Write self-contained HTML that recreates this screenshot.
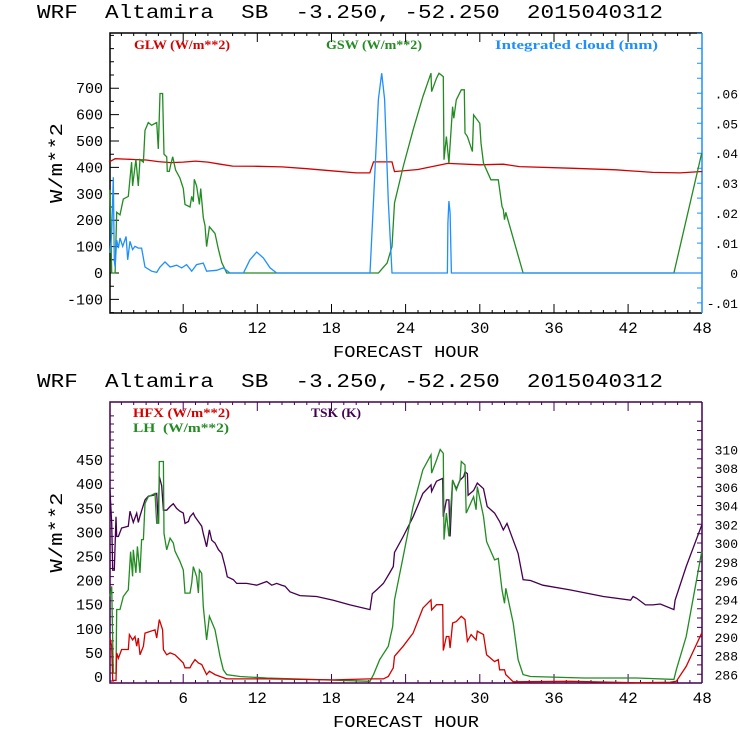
<!DOCTYPE html>
<html><head><meta charset="utf-8"><style>
html,body{margin:0;padding:0;background:#fff;width:740px;height:740px;overflow:hidden}
svg text{font-family:"Liberation Mono",monospace;white-space:pre}
.ser{font-family:"Liberation Serif",serif;font-weight:bold;font-size:13px}
</style></head><body>
<svg id="chart" width="740" height="740" viewBox="0 0 740 740" xmlns="http://www.w3.org/2000/svg" xml:space="preserve"></svg>
<script>
// ---------- data (hours, values) ----------
const glwHours=[0,0.5,2,3,4,5,6,7,8,9,10,12,14,16,18,20,21.1,21.4,22.9,23.1,25,27.4,30,31.9,33.2,37.3,41,44,46.2,47.8,48];
const glwVals=[420,433,430,428,422,418,420,424,420,412,405,404,402,395,387,379,379,421,421,384,392,415,410,412,403,397,391,381,379,384,384];
const gswHours=[0.08,0.22,0.49,0.62,0.89,1.16,1.56,1.83,1.91,2.18,2.37,2.51,2.78,2.91,3.18,3.45,3.86,3.99,4.13,4.34,4.45,4.67,4.72,4.88,4.99,5.15,5.39,5.74,6.01,6.15,6.55,6.69,6.82,6.9,7.09,7.31,7.42,7.63,7.77,7.9,8.12,8.58,8.85,9.12,9.52,21.8,22.5,22.9,23.1,23.8,24.6,25.4,26.05,26.1,26.5,26.7,27.05,27.1,27.3,27.5,27.8,27.9,28.1,28.5,28.75,28.8,29.0,29.4,29.5,30.0,30.1,30.3,30.9,31.5,31.8,31.9,32.0,32.1,33.5,45.7,47.95];
const gswVals=[315,0,0,230,220,280,290,420,330,430,330,430,420,540,570,560,570,470,680,680,450,440,385,385,410,440,390,360,320,260,250,290,270,355,330,260,320,210,180,100,175,150,90,40,0,0,38,100,265,403,542,668,757,687,738,757,744,429,517,416,630,586,656,694,694,530,517,460,599,567,492,416,353,353,252,240,202,230,0,0,454];
const cloudHours=[0.08,0.22,0.35,0.43,0.49,0.62,0.76,0.89,1.11,1.38,1.51,1.7,1.91,2.1,2.37,2.64,2.91,3.45,3.86,4.13,4.53,4.94,5.47,5.88,6.28,6.69,7.09,7.63,7.9,8.71,9.25,9.79,10.87,11.14,11.4,11.95,12.49,13.03,13.57,21.12,21.4,21.8,22.06,22.3,22.6,22.9,27.38,27.42,27.5,27.6,27.7,48];
const cloudVals=[0.0067,0.0133,0.032,0.004,0.002,0.011,0.0083,0.0117,0.0089,0.0122,0.0044,0.0106,0.0078,0.0089,0.0083,0.0083,0.002,0.0006,0.0002,0.002,0.0037,0.002,0.0026,0.0017,0.0028,0.0006,0.0028,0.0033,0.0006,0.0009,0.0017,0,0,0.0022,0.0044,0.007,0.005,0.0017,0,0,0.024,0.058,0.0667,0.058,0.024,0,0,0.0167,0.024,0.02,0,0];
const tskHours=[0.08,0.22,0.3,0.43,0.57,0.62,0.76,1.02,1.56,1.7,1.97,2.24,2.37,2.51,2.91,3.18,3.59,3.86,3.99,4.07,4.26,4.4,4.67,4.94,5.2,5.47,5.74,6.01,6.15,6.42,6.55,6.82,6.96,7.23,7.5,7.63,7.9,8.12,8.31,8.58,8.85,9.12,9.39,9.57,10.06,10.33,11.14,11.95,12.76,13.16,13.57,13.97,14.24,14.64,15.45,16.8,18.15,19.5,21.12,21.3,21.65,22.2,22.7,23.0,23.1,23.8,24.6,25.4,26.05,26.1,26.5,27.0,27.05,27.3,27.5,27.6,27.8,28.1,28.4,28.7,28.8,29.0,29.05,29.5,29.8,30.3,30.6,31.2,31.6,31.9,32.2,32.7,33.1,33.5,34.1,35.1,37.3,40.0,42.2,42.4,42.7,43.4,44.0,44.6,45.7,45.8,46.7,47.95];
const tskVals=[305.6,302.1,297.1,297.1,302.8,300.7,300.7,301.6,301.8,303.4,302.2,303.2,302.2,302.9,304.6,305.0,305.1,305.3,302.1,307.1,306.1,303.5,303.5,303.9,304.2,303.7,303.4,303.2,302.1,302.3,302.8,303.2,302.8,302.3,301.8,301.0,299.6,301.4,300.3,300.0,299.3,298.9,297.5,296.4,296.1,295.7,295.7,295.5,295.9,295.5,295.7,295.5,295.4,294.8,294.4,294.3,293.9,293.4,292.9,294.6,295.0,295.7,296.8,297.5,299.0,300.7,302.8,305.3,306.2,305.5,306.6,306.9,302.8,304.6,304.6,300.7,306.7,305.8,306.7,307.1,307.6,307.4,305.1,305.6,306.4,305.8,303.9,303.2,302.3,301.4,302.1,300.3,298.9,296.1,296.0,295.5,295.0,294.3,293.9,294.3,294.1,293.4,293.4,293.5,292.9,293.9,297.5,301.9];
const lhHours=[0.08,0.22,0.35,0.57,0.62,0.89,1.16,1.56,1.75,1.91,1.97,2.18,2.3,2.51,2.64,2.78,2.91,3.18,3.72,3.86,4.02,4.07,4.4,4.45,4.67,4.94,5.2,5.34,5.74,6.01,6.15,6.55,6.69,6.82,7.09,7.23,7.31,7.5,7.63,7.9,8.12,8.58,8.98,9.25,9.52,10.6,12.76,21.12,21.4,21.9,22.6,22.95,23.1,23.8,24.6,25.4,26.05,26.1,26.5,26.8,27.05,27.1,27.3,27.5,27.8,28.1,28.4,28.5,28.8,28.9,29.5,29.7,29.8,30.3,30.55,31.2,31.5,31.8,32.0,32.1,32.7,33.1,33.5,34.1,38.4,42.7,45.7,45.9,46.7,47.95];
const lhVals=[167,188,8,8,140,140,167,181,260,209,264,216,271,216,285,285,360,374,381,319,319,447,447,298,264,288,278,261,240,222,174,174,195,229,208,174,222,215,146,77,126,98,43,15,5,1,-2,-9,5,36,64,105,160,250,354,430,461,423,450,472,464,285,340,292,409,388,409,447,440,340,374,347,395,333,281,243,246,181,153,184,112,36,5,1,-2,-2,-5,15,84,260];
const hfxHours=[0.08,0.22,0.3,0.57,0.62,0.76,1.02,1.56,1.65,1.91,2.1,2.24,2.37,2.51,2.78,2.91,3.72,3.86,4.07,4.34,4.4,4.67,4.94,5.34,5.74,6.01,6.15,6.55,6.69,6.96,7.23,7.5,7.63,7.9,8.12,8.58,9.52,12.76,18.15,21.12,22.2,22.6,23.0,23.1,23.8,24.6,25.4,26.05,26.1,26.5,27.0,27.05,27.3,27.5,27.6,27.8,28.1,28.5,28.8,29.0,29.3,29.7,29.8,30.3,30.55,31.2,31.5,31.6,32.0,32.1,32.7,37.3,42.7,45.4,45.9,46.7,47.95];
const hfxVals=[81,64,-7,-7,50,39,57,57,88,77,84,64,81,46,64,91,98,81,119,98,57,46,50,46,36,29,19,19,26,36,29,26,19,5,12,5,-4,-4,-6,-4,-4,1,19,43,64,91,143,160,139,150,150,55,84,84,60,112,115,126,119,74,88,77,95,88,46,32,36,15,15,5,-10,-9,-12,-11,-9,22,91];
// axis ticks
const xTickLabels=[6,12,18,24,30,36,42,48];
const topLeftTicks=[-100,0,100,200,300,400,500,600,700];
const topRightTicks=[-0.01,0,0.01,0.02,0.03,0.04,0.05,0.06];
const botLeftTicks=[0,50,100,150,200,250,300,350,400,450];
const botRightTicks=[286,288,290,292,294,296,298,300,302,304,306,308,310];

const NS="http://www.w3.org/2000/svg";
const svg=document.getElementById('chart');
function el(tag,attrs,parent,txt){const e=document.createElementNS(NS,tag);for(const k in attrs)e.setAttribute(k,attrs[k]);if(txt!==undefined)e.textContent=txt;(parent||svg).appendChild(e);return e;}
const L=110,R=702;
const xs=h=>109+12.36*h;
const T1=33,B1=313;
const yGlw=v=>273-v*0.264;
const yCloud=v=>273-v*2995;
const T2=402,B2=683;
const yLh=v=>677-v*0.482;
const yTsk=v=>674.3-(v-286)*9.375;
const RED="#d40000",GRN="#228b22",BLU="#1e8fff",PUR="#440050";

function fmtR(v){if(v===0)return"0";let s=v.toFixed(2);s=s.replace("0.",".");return s;}

function panel(top,bot,frameColor,rightColor,yl,yr,lTicks,rTicks,lMinor,rMinor,rFmt,pname){
  const g=el('g',{},svg);
  
  
  const t=el('text',{x:37,y:top-15,'font-size':19,textLength:626,lengthAdjust:'spacingAndGlyphs'},g,"WRF  Altamira  SB  -3.250, -52.250  2015040312");
  
  
  el('path',{d:`M${R},${top}H${L}V${bot}H${R}`,stroke:frameColor,fill:'none','stroke-width':1.5},g);
  el('line',{x1:R,y1:top,x2:R,y2:bot,stroke:rightColor,'stroke-width':1.5},g);
  let d="";
  for(let h=1;h<=47;h++){const x=xs(h).toFixed(1);const len=h%6===0?9:3;d+=`M${x},${bot}v-${len}M${x},${top}v${len}`;}
  el('path',{d,stroke:frameColor,'stroke-width':1},g);
  xTickLabels.forEach(h=>{const tl=el('text',{x:xs(h),y:bot+20,'font-size':16,'text-anchor':'middle'},g,String(h));
    
    });
  const xt=el('text',{x:406,y:bot+44,'font-size':17,'text-anchor':'middle',textLength:146,lengthAdjust:'spacingAndGlyphs'},g,"FORECAST HOUR");
  
  
  d="";
  for(const v of lMinor){const y=yl(v);if(y<top||y>bot)continue;const major=lTicks.includes(v);d+=`M${L},${y.toFixed(1)}h${major?9:4}`;}
  el('path',{d,stroke:frameColor},g);
  lTicks.forEach(v=>{const tl=el('text',{x:L-7,y:yl(v)+5,'font-size':15,'text-anchor':'end'},g,String(v));
    
    });
  d="";
  for(const v of rMinor){const y=yr(v);if(y<top||y>bot)continue;d+=`M${R},${y.toFixed(1)}h-5`;}
  el('path',{d,stroke:rightColor},g);
  rTicks.forEach(v=>{const tl=el('text',{x:738,y:yr(v)+5,'font-size':13,'text-anchor':'end'},g,rFmt(v));
    
    });
  const yt=el('text',{x:0,y:0,'font-size':18,'text-anchor':'middle',transform:`translate(62,${(top+bot)/2-10}) rotate(-90)`,textLength:80,lengthAdjust:'spacingAndGlyphs'},g,"W/m**2");
  
  
  return g;
}
function series(hours,vals,yf,color,name){
  const pts=hours.map((h,i)=>xs(h).toFixed(1)+","+yf(vals[i]).toFixed(1)).join(" ");
  const p=el('polyline',{points:pts,fill:'none',stroke:color,'stroke-width':1.3});
  
  
}
function legend(x,y,color,txt,w,name){
  const t=el('text',{x,y,fill:color,class:'ser',textLength:w,lengthAdjust:'spacingAndGlyphs'},svg,txt);
  
  
}
const mk=(a,b,s)=>{const r=[];for(let v=a;v<=b+1e-9;v+=s)r.push(Math.round(v*1000)/1000);return r;};
panel(T1,B1,"#000",BLU,yGlw,yCloud,topLeftTicks,topRightTicks,mk(-150,900,50),mk(-0.015,0.085,0.005),fmtR,'top-panel');
panel(T2,B2,PUR,PUR,yLh,yTsk,botLeftTicks,botRightTicks,mk(-25,550,50/3),mk(285,313,1),v=>String(v),'bottom-panel');

series(glwHours,glwVals,yGlw,RED,'glw-line');
series(gswHours,gswVals,yGlw,GRN,'gsw-line');
series(cloudHours,cloudVals,yCloud,BLU,'cloud-line');
series(tskHours,tskVals,yTsk,PUR,'tsk-line');
series(lhHours,lhVals,yLh,GRN,'lh-line');
series(hfxHours,hfxVals,yLh,RED,'hfx-line');

legend(134,49,RED,"GLW (W/m**2)",96,'legend-glw');
legend(326,49,GRN,"GSW (W/m**2)",96,'legend-gsw');
legend(495,49,BLU,"Integrated cloud (mm)",163,'legend-cloud');
legend(133,417,RED,"HFX (W/m**2)",97,'legend-hfx');
legend(133,432,GRN,"LH  (W/m**2)",96,'legend-lh');
legend(311,417,PUR,"TSK (K)",50,'legend-tsk');
</script>
</body></html>
